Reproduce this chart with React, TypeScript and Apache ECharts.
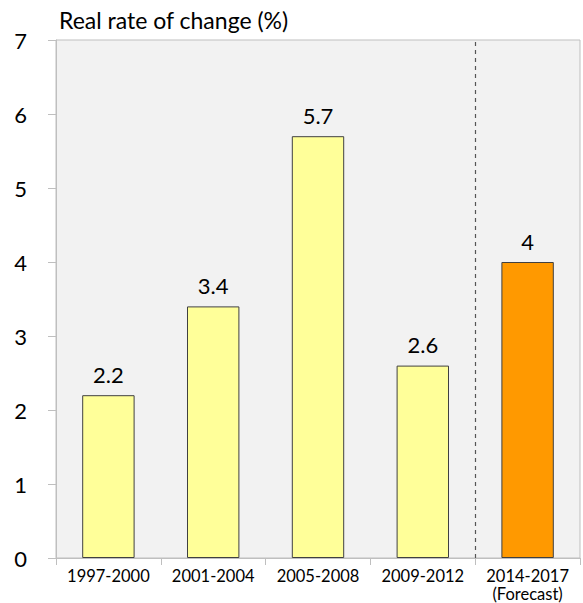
import React, { useEffect, useRef } from "react";
import * as echarts from "echarts";

const categories = ["1997-2000", "2001-2004", "2005-2008", "2009-2012", "2014-2017\n(Forecast)"];
const values = [2.2, 3.4, 5.7, 2.6, 4];
const barColors = ["#ffff99", "#ffff99", "#ffff99", "#ffff99", "#ff9900"];
const forecastBoundary = 4; // boundary before the 5th category
const titleText = "Real rate of change (%)";

export default function App() {
  const ref = useRef<HTMLDivElement>(null);
  useEffect(() => {
    document.body.style.margin = "0";
    const chart = echarts.init(ref.current!, undefined, { renderer: "svg" });
    const font = "Lato, 'Open Sans', sans-serif";
    chart.setOption({
      animation: false,
      backgroundColor: "#ffffff",
      textStyle: { fontFamily: font },
      title: {
        text: titleText,
        left: 54,
        top: 3,
        textStyle: { fontSize: 23, fontWeight: "normal", color: "#000", fontFamily: font },
      },
      grid: {
        left: 56,
        right: 3,
        top: 40,
        bottom: 45,
        show: true,
        backgroundColor: "#f2f2f2",
        borderColor: "#bfbfbf",
        borderWidth: 1,
      },
      xAxis: [
        {
          type: "category",
          data: categories,
          axisLine: { lineStyle: { color: "#bfbfbf" } },
          axisTick: { show: true, length: 7, lineStyle: { color: "#bfbfbf" } },
          axisLabel: { color: "#000", fontSize: 16.5, lineHeight: 18, margin: 9, interval: 0, fontFamily: font },
          splitLine: { show: false },
        },
        {
          type: "value",
          min: 0,
          max: categories.length,
          show: false,
          position: "bottom",
        },
      ],
      yAxis: {
        type: "value",
        min: 0,
        max: 7,
        interval: 1,
        axisLine: { show: true, lineStyle: { color: "#bfbfbf" } },
        axisTick: { show: true, length: 8, lineStyle: { color: "#bfbfbf" } },
        axisLabel: { color: "#000", fontSize: 22, margin: 29, fontFamily: font },
        splitLine: { show: false },
      },
      series: [
        {
          type: "bar",
          barWidth: "50%",
          xAxisIndex: 0,
          data: values.map((v, i) => ({
            value: v,
            itemStyle: { color: barColors[i], borderColor: "#404040", borderWidth: 1 },
          })),
          label: { show: true, position: "top", distance: 10, color: "#000", fontSize: 22, fontFamily: font },
        },
        {
          type: "line",
          xAxisIndex: 1,
          data: [],
          markLine: {
            silent: true,
            symbol: "none",
            label: { show: false },
            lineStyle: { color: "#555", type: [4, 4], width: 1.2 },
            data: [{ xAxis: forecastBoundary }],
          },
        },
      ],
    });
    return () => chart.dispose();
  }, []);
  return <div ref={ref} style={{ width: 583, height: 603 }} />;
}
